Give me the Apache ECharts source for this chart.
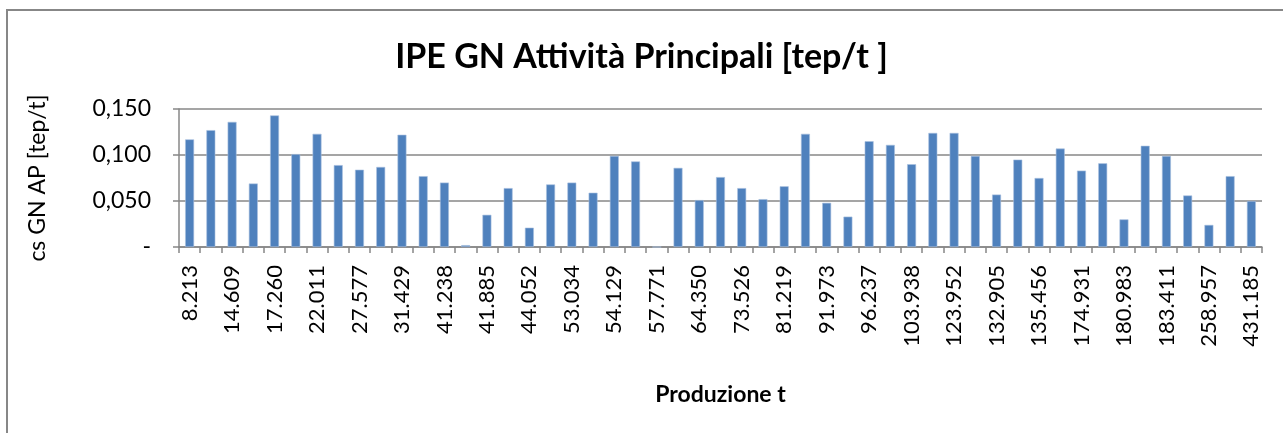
<!DOCTYPE html>
<html>
<head>
<meta charset="utf-8">
<script src="https://cdn.jsdelivr.net/npm/echarts@6/dist/echarts.min.js"></script>
<style>
  html, body { margin: 0; padding: 0; background: #ffffff; }
  #chart { width: 1283px; height: 433px; }
</style>
</head>
<body>
<div id="chart"></div>
<script>
// Production labels shown under every other bar (t)
const tickLabels = [
  '8.213', '14.609', '17.260', '22.011', '27.577', '31.429', '41.238',
  '41.885', '44.052', '53.034', '54.129', '57.771', '64.350', '73.526',
  '81.219', '91.973', '96.237', '103.938', '123.952', '132.905', '135.456',
  '174.931', '180.983', '183.411', '258.957', '431.185'
];

// Specific consumption of natural gas, main activities [tep/t]
const values = [
  0.117, 0.127, 0.136, 0.069, 0.143, 0.101, 0.123, 0.089, 0.084, 0.087,
  0.122, 0.077, 0.070, 0.002, 0.035, 0.064, 0.021, 0.068, 0.070, 0.059,
  0.099, 0.093, 0, 0.086, 0.051, 0.076, 0.064, 0.052, 0.066, 0.123,
  0.048, 0.033, 0.115, 0.111, 0.090, 0.124, 0.124, 0.099, 0.057, 0.095,
  0.075, 0.107, 0.083, 0.091, 0.030, 0.110, 0.099, 0.056, 0.024, 0.077,
  0.050
];

// One category per bar; only every other one carries a label
const categories = values.map((v, i) => (i % 2 === 0 ? tickLabels[i / 2] : ''));

const FONT = 'Lato';
const GRAY = '#878787';

const chart = echarts.init(document.getElementById('chart'), null, { renderer: 'canvas' });

chart.setOption({
  animation: false,
  backgroundColor: '#ffffff',
  title: {
    text: 'IPE GN Attività Principali [tep/t ]',
    left: 'center',
    top: 35,
    textStyle: { fontFamily: FONT, fontWeight: 'bold', fontSize: 34, color: '#000000' }
  },
  graphic: [{
    type: 'rect',
    shape: { x: 7, y: 10, width: 1400, height: 600 },
    style: { fill: 'none', stroke: GRAY, lineWidth: 2 },
    silent: true
  }],
  grid: { left: 179, right: 21, top: 109, bottom: 186 },
  xAxis: {
    type: 'category',
    data: categories,
    boundaryGap: true,
    name: 'Produzione t',
    nameLocation: 'middle',
    nameGap: 136,
    nameTextStyle: { fontFamily: FONT, fontWeight: 'bold', fontSize: 23, color: '#000000' },
    axisLine: { show: true, lineStyle: { color: GRAY, width: 1.5 } },
    axisTick: { show: true, interval: 0, length: 6, lineStyle: { color: GRAY, width: 1.5 } },
    axisLabel: {
      interval: 0,
      rotate: 90,
      margin: 18,
      fontFamily: FONT,
      fontSize: 22,
      color: '#000000'
    },
    splitLine: { show: false }
  },
  yAxis: {
    type: 'value',
    min: 0,
    max: 0.15,
    interval: 0.05,
    name: 'cs GN AP [tep/t]',
    nameLocation: 'middle',
    nameGap: 130,
    nameRotate: 90,
    nameTextStyle: { fontFamily: FONT, fontSize: 23, color: '#000000' },
    axisLine: { show: true, lineStyle: { color: GRAY, width: 1.5 } },
    axisTick: { show: true, length: 6, lineStyle: { color: GRAY, width: 1.5 } },
    axisLabel: {
      margin: 28,
      fontFamily: FONT,
      fontSize: 23,
      color: '#000000',
      formatter: v => (v === 0 ? '-' : v.toFixed(3).replace('.', ','))
    },
    splitLine: { show: true, lineStyle: { color: GRAY, width: 1.5 } }
  },
  series: [{
    type: 'bar',
    data: values,
    barWidth: '42%',
    itemStyle: { color: '#4F81BD', borderColor: '#a7c0df', borderWidth: 0.6 }
  }]
});
</script>
</body>
</html>
